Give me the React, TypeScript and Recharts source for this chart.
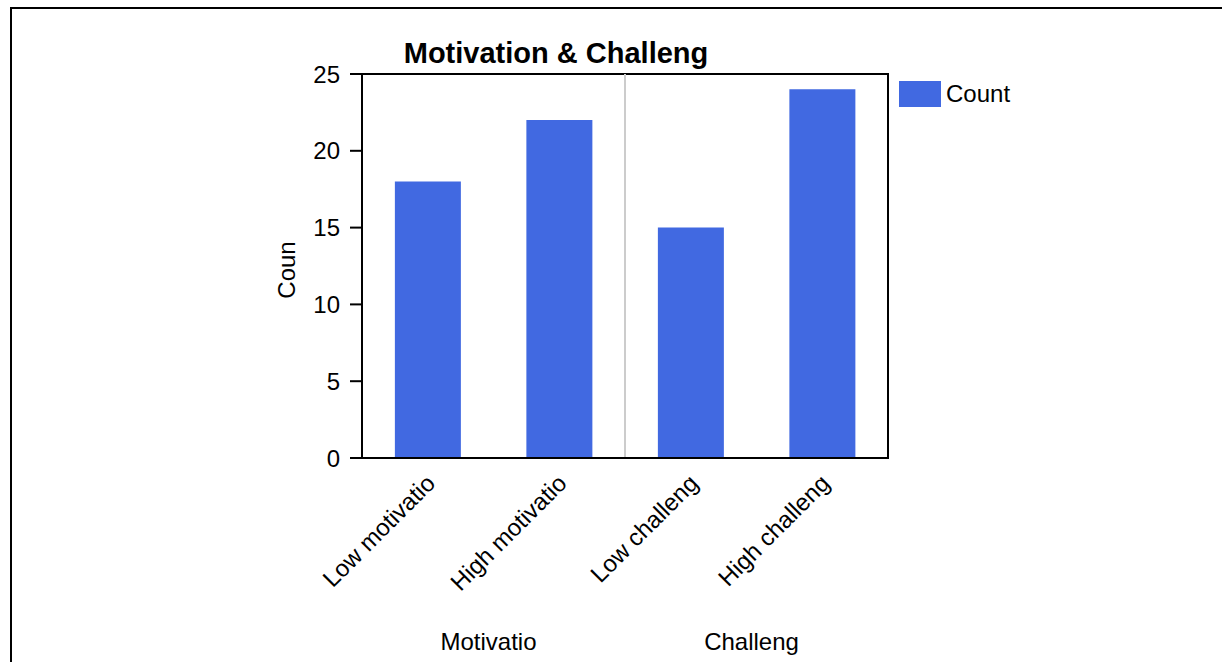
import React from "react";
import {
  BarChart,
  Bar,
  XAxis,
  YAxis,
  ReferenceArea,
  ReferenceLine,
  Legend,
} from "recharts";

const categories = ["Low motivatio", "High motivatio", "Low challeng", "High challeng"];
const counts = [18, 22, 15, 24];
const groupLabels = ["Motivatio", "Challeng"];
const groupTicks = [1, 3];
const yTicks = [0, 5, 10, 15, 20, 25];
const seriesName = "Count";
const title = "Motivation & Challeng";
const yLabel = "Coun";

const data = categories.map((c, i) => ({ category: c, count: counts[i], pos: i + 0.5 }));

const FONT = "'Liberation Sans', Arial, sans-serif";
const BLUE = "#4169E1";
const FS = 24;

const RotTick = (props: any) => {
  const { x, y, payload } = props;
  return (
    <g transform={`translate(${x + 6},${y + 8})`}>
      <text
        x={0}
        y={0}
        dy={4}
        textAnchor="end"
        transform="rotate(-45)"
        fontSize={FS}
        fontFamily={FONT}
        fill="#000"
      >
        {payload.value}
      </text>
    </g>
  );
};

const LegendContent = () => (
  <div style={{ display: "flex", alignItems: "center", fontFamily: FONT, fontSize: FS }}>
    <div style={{ width: 42, height: 26, background: BLUE, marginRight: 5 }} />
    <span>{seriesName}</span>
  </div>
);

export default function App() {
  return (
    <div
      style={{
        position: "fixed",
        left: 0,
        top: 0,
        width: 1222,
        height: 662,
        overflow: "hidden",
        background: "#fff",
        fontFamily: FONT,
      }}
    >
      <div
        style={{
          position: "absolute",
          left: 10,
          top: 7,
          width: 1400,
          height: 800,
          border: "2px solid #000",
        }}
      />
      <div
        style={{
          position: "absolute",
          left: 356,
          width: 400,
          top: 37,
          textAlign: "center",
          fontWeight: "bold",
          fontSize: 29,
          lineHeight: "32px",
        }}
      >
        {title}
      </div>
      <div
        style={{
          position: "absolute",
          left: 287 - 40,
          top: 270 - 14,
          width: 80,
          height: 28,
          lineHeight: "28px",
          textAlign: "center",
          fontSize: FS,
          transform: "rotate(-90deg)",
        }}
      >
        {yLabel}
      </div>
      <div style={{ position: "absolute", left: 0, top: 0 }}>
        <BarChart
          width={1222}
          height={662}
          data={data}
          margin={{ top: 74, right: 334, bottom: 4, left: 302 }}
          barCategoryGap="25%"
        >
          <XAxis
            dataKey="category"
            xAxisId={0}
            height={160}
            interval={0}
            tickLine={false}
            axisLine={{ stroke: "#000", strokeWidth: 2 }}
            tick={<RotTick />}
            tickMargin={10}
          />
          <XAxis
            xAxisId="grp"
            type="number"
            dataKey="pos"
            domain={[0, 4]}
            ticks={groupTicks}
            tickFormatter={(v: number) => groupLabels[groupTicks.indexOf(v)]}
            height={40}
            axisLine={false}
            tickLine={false}
            tickSize={0}
            tickMargin={15}
            tick={{ fill: "#000", fontSize: FS, fontFamily: FONT, dx: -5 }}
          />
          <YAxis
            width={60}
            domain={[0, 25]}
            ticks={yTicks}
            tickSize={12}
            tickMargin={10}
            axisLine={{ stroke: "#000", strokeWidth: 2 }}
            tickLine={{ stroke: "#000", strokeWidth: 2 }}
            tick={{ fill: "#000", fontSize: FS, fontFamily: FONT }}
          />
          <ReferenceArea
            y1={0}
            y2={25}
            fill="none"
            stroke="#000"
            strokeWidth={2}
            fillOpacity={0}
          />
          <ReferenceLine x={2} xAxisId="grp" stroke="#cccccc" strokeWidth={2} />
          <Legend
            content={<LegendContent />}
            layout="vertical"
            align="center"
            verticalAlign="middle"
            wrapperStyle={{ position: "absolute", left: 899, top: 80, width: 200, height: 30 }}
          />
          <Bar dataKey="count" name={seriesName} fill={BLUE} isAnimationActive={false} />
        </BarChart>
      </div>
    </div>
  );
}
